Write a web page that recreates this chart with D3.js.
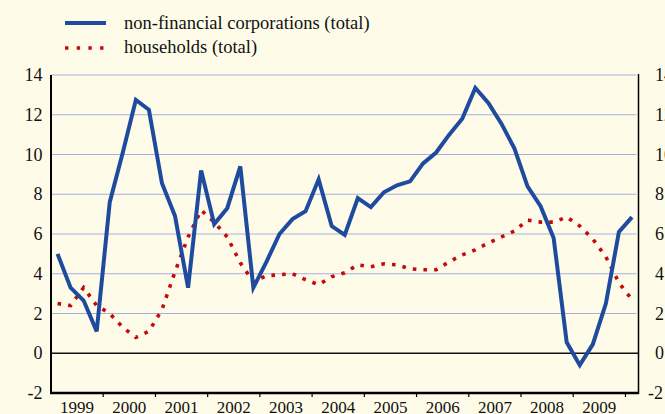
<!DOCTYPE html>
<html>
<head>
<meta charset="utf-8">
<script src="https://cdn.jsdelivr.net/npm/d3@7"></script>
</head>
<body style="margin:0; background:#fefce9">
<script>
// quarterly series, 1999 Q1 .. 2010 Q1
const years = ["1999","2000","2001","2002","2003","2004","2005","2006","2007","2008","2009"];
const yTicks = [-2, 0, 2, 4, 6, 8, 10, 12, 14];
const seriesNames = ["non-financial corporations (total)", "households (total)"];

const corporations = [
  5.0, 3.3, 2.65, 1.1,
  7.6, 10.1, 12.75, 12.25,
  8.55, 6.9, 3.3, 9.2,
  6.5, 7.3, 9.4, 3.3,
  4.6, 6.0, 6.75, 7.15,
  8.75, 6.4, 5.95, 7.8,
  7.35, 8.1, 8.45, 8.65,
  9.55, 10.1, 11.0, 11.8,
  13.35, 12.6, 11.55, 10.3,
  8.4, 7.4, 5.8, 0.55,
  -0.6, 0.45, 2.5, 6.1,
  6.85
];

const households = [
  2.5, 2.4, 3.3, 2.4,
  2.0, 1.3, 0.8, 1.1,
  2.2, 4.1, 5.85, 7.2,
  6.6, 5.85, 4.55, 3.6,
  3.9, 3.95, 4.0, 3.7,
  3.45, 3.85, 4.05, 4.45,
  4.35, 4.5, 4.45, 4.25,
  4.2, 4.2, 4.6, 4.95,
  5.2, 5.55, 5.85, 6.15,
  6.7, 6.6, 6.6, 6.85,
  6.4, 5.75, 4.85, 3.55,
  2.7
];

const width = 665, height = 414;
const plot = {left: 51, right: 638.5, top: 75, bottom: 393};
const font = "'Liberation Serif'";

const svg = d3.select("body").append("svg")
  .attr("width", width)
  .attr("height", height)
  .style("display", "block")
  .style("font-family", font);

svg.append("rect")
  .attr("width", width)
  .attr("height", height)
  .attr("fill", "#fefce9");

const x = d3.scaleLinear()
  .domain([0, corporations.length])
  .range([plot.left, plot.right]);

const y = d3.scaleLinear()
  .domain([-2, 14])
  .range([plot.bottom, plot.top]);

// grid lines
svg.append("g")
  .selectAll("line")
  .data(yTicks.filter(d => d > 0))
  .join("line")
  .attr("x1", plot.left)
  .attr("x2", plot.right - 2)
  .attr("y1", d => y(d))
  .attr("y2", d => y(d))
  .attr("stroke", "#a7afdf")
  .attr("stroke-width", 1.2);

// zero line
svg.append("line")
  .attr("x1", plot.left).attr("x2", plot.right)
  .attr("y1", y(0)).attr("y2", y(0))
  .attr("stroke", "#111").attr("stroke-width", 1.5);

// series
const line = d3.line()
  .x((d, i) => x(i + 0.5))
  .y(d => y(d));

svg.append("path")
  .datum(households)
  .attr("fill", "none")
  .attr("stroke", "#c40a0a")
  .attr("stroke-width", 3.6)
  .attr("stroke-dasharray", "3.6 7.1")
  .attr("d", line);

svg.append("path")
  .datum(corporations)
  .attr("fill", "none")
  .attr("stroke", "#1f4b9f")
  .attr("stroke-width", 4)
  .attr("d", line);

// axes lines
svg.append("line")
  .attr("x1", plot.left).attr("x2", plot.left)
  .attr("y1", plot.top).attr("y2", plot.bottom + 1)
  .attr("stroke", "#000").attr("stroke-width", 2);

svg.append("line")
  .attr("x1", plot.right).attr("x2", plot.right)
  .attr("y1", plot.top - 1).attr("y2", plot.bottom + 1)
  .attr("stroke", "#000").attr("stroke-width", 1.5);

svg.append("line")
  .attr("x1", plot.left - 1).attr("x2", plot.right)
  .attr("y1", plot.bottom).attr("y2", plot.bottom)
  .attr("stroke", "#000").attr("stroke-width", 2.5);

// year ticks and labels
svg.append("g")
  .selectAll("line")
  .data(years.slice(1).concat(["2010"]))
  .join("line")
  .attr("x1", (d, i) => x((i + 1) * 4))
  .attr("x2", (d, i) => x((i + 1) * 4))
  .attr("y1", plot.bottom)
  .attr("y2", plot.bottom + 4)
  .attr("stroke", "#000")
  .attr("stroke-width", 1.2);

svg.append("g")
  .selectAll("text")
  .data(years)
  .join("text")
  .attr("x", (d, i) => x(i * 4 + 2))
  .attr("y", 412.5)
  .attr("text-anchor", "middle")
  .style("font-family", font)
  .style("font-size", "17px")
  .attr("fill", "#111")
  .text(d => d);

// left and right value labels
svg.append("g")
  .selectAll("text")
  .data(yTicks)
  .join("text")
  .attr("x", 42.5)
  .attr("y", d => y(d))
  .attr("dy", "0.34em")
  .attr("text-anchor", "end")
  .style("font-family", font)
  .style("font-size", "18px")
  .attr("fill", "#111")
  .text(d => d);

svg.append("g")
  .selectAll("text")
  .data(yTicks)
  .join("text")
  .attr("x", d => d < 0 ? 648 : 655)
  .attr("y", d => y(d))
  .attr("dy", "0.34em")
  .style("font-family", font)
  .style("font-size", "18px")
  .attr("fill", "#111")
  .text(d => d);

// legend
const legend = svg.append("g");
legend.append("line")
  .attr("x1", 65).attr("x2", 106)
  .attr("y1", 23).attr("y2", 23)
  .attr("stroke", "#1f4b9f").attr("stroke-width", 4);
legend.append("line")
  .attr("x1", 65).attr("x2", 106)
  .attr("y1", 48).attr("y2", 48)
  .attr("stroke", "#c40a0a").attr("stroke-width", 3.6)
  .attr("stroke-dasharray", "3.4 8.3");
legend.selectAll("text")
  .data(seriesNames)
  .join("text")
  .attr("x", 124)
  .attr("y", (d, i) => 28.7 + i * 24.3)
  .style("font-family", font)
  .style("font-size", "18.5px")
  .attr("fill", "#111")
  .text(d => d);
</script>
</body>
</html>
